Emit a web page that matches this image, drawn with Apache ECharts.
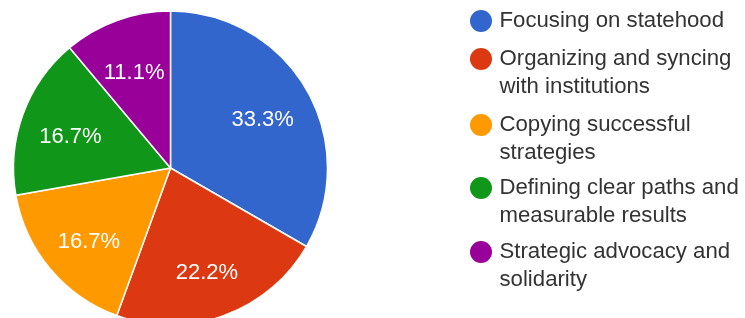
<!DOCTYPE html>
<html>
<head>
<meta charset="utf-8">
<script src="https://cdn.jsdelivr.net/npm/echarts@6/dist/echarts.min.js"></script>
<style>
  html, body { margin: 0; padding: 0; background: #fff; }
  #chart { width: 745px; height: 318px; }
</style>
</head>
<body>
<div id="chart"></div>
<script>
const categories = [
  'Focusing on statehood',
  'Organizing and syncing with institutions',
  'Copying successful strategies',
  'Defining clear paths and measurable results',
  'Strategic advocacy and solidarity'
]
// legend text as it wraps in the picture
const legendLines = [
  ['Focusing on statehood'],
  ['Organizing and syncing', 'with institutions'],
  ['Copying successful', 'strategies'],
  ['Defining clear paths and', 'measurable results'],
  ['Strategic advocacy and', 'solidarity']
]
const counts = [6, 4, 3, 3, 2]
const colors = ['#3366cc', '#dc3912', '#ff9900', '#109618', '#990099']

const font = 'Arial, "Liberation Sans", sans-serif'
const center = [170.5, 168]
const R = 157

const data = categories.map((name, i) => ({
  name: name,
  value: counts[i],
  itemStyle: { color: colors[i] }
}))

// y of the middle of each legend item's first line
const legendTops = [21, 59, 125, 188, 252]

// two-line items get an empty line on top so the icon lines up with line one
const legends = categories.map((name, i) => {
  const twoLines = legendLines[i].length > 1
  return {
    data: [name],
    orient: 'vertical',
    left: 468,
    top: legendTops[i] - (twoLines ? 42 : 14),
    padding: 0,
    icon: 'circle',
    itemWidth: 27,
    itemHeight: 24,
    selectedMode: false,
    formatter: () => (twoLines ? '\n' : '') + legendLines[i].join('\n'),
    textStyle: {
      fontFamily: font,
      fontSize: 22.2,
      lineHeight: 28,
      color: '#333'
    }
  }
})

const chart = echarts.init(document.getElementById('chart'), null, { renderer: 'canvas' })
chart.setOption({
  animation: false,
  legend: legends,
  series: [
    {
      type: 'pie',
      center: center,
      radius: [0, R],
      startAngle: 90,
      clockwise: true,
      silent: true,
      data: data,
      label: { show: false },
      labelLine: { show: false },
      itemStyle: { borderColor: '#fff', borderWidth: 1.5 }
    },
    {
      // label-only ring so the percentages sit at about 2/3 of the radius
      type: 'pie',
      center: center,
      radius: [50, R],
      startAngle: 90,
      clockwise: true,
      silent: true,
      data: data.map(d => ({ name: d.name, value: d.value })),
      itemStyle: { color: 'rgba(0,0,0,0)' },
      label: {
        show: true,
        position: 'inside',
        offset: [0, 5],
        formatter: p => p.percent.toFixed(1) + '%',
        color: '#fff',
        fontFamily: font,
        fontSize: 22
      },
      labelLine: { show: false }
    }
  ]
})
</script>
</body>
</html>
